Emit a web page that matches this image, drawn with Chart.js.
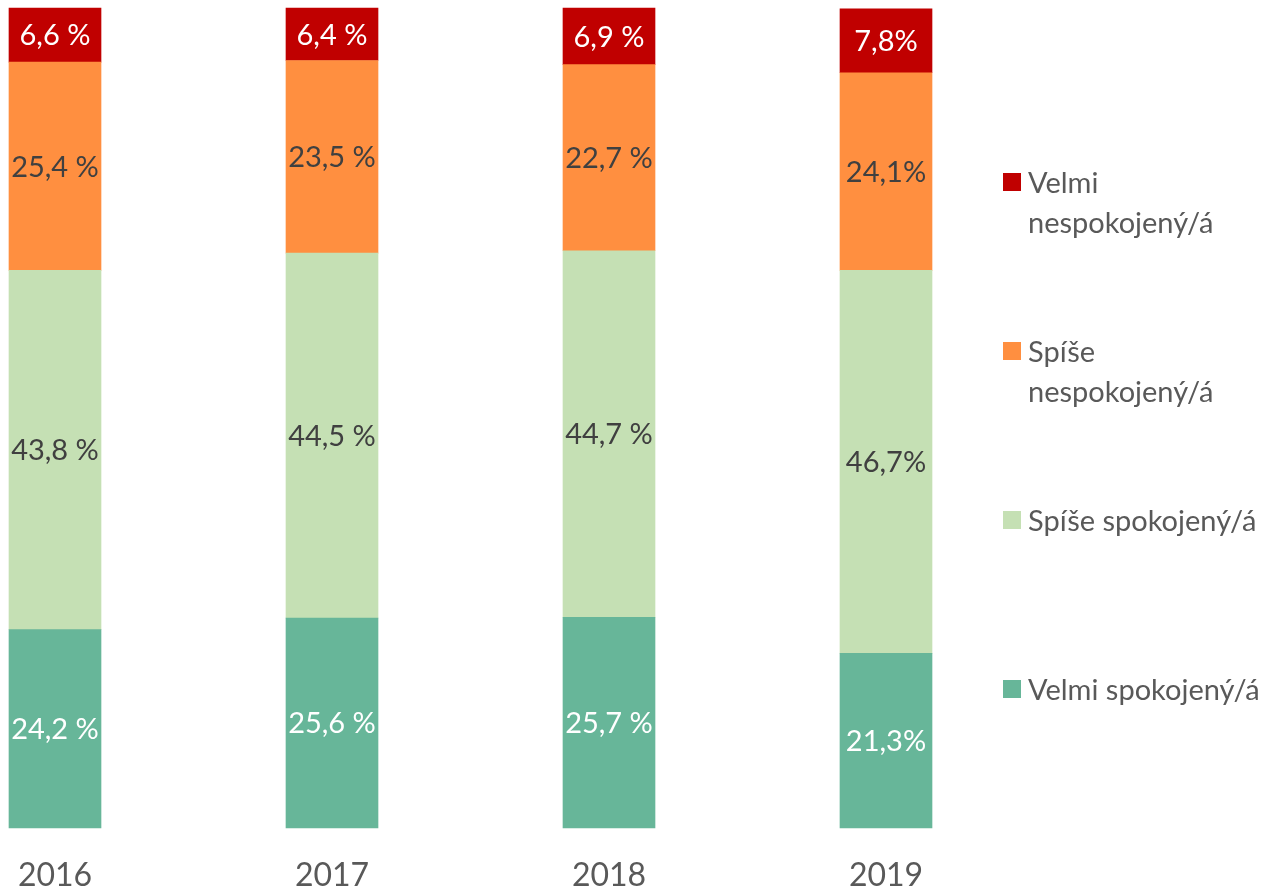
<!DOCTYPE html>
<html>
<head>
<meta charset="utf-8">
<script src="https://cdn.jsdelivr.net/npm/chart.js@4"></script>
<style>
  html, body { margin: 0; padding: 0; background: #fff; }
  #wrap { position: relative; width: 1273px; height: 892px; }
  #legend { position: absolute; left: 1003px; top: 0; width: 270px; font-family: Lato, sans-serif; font-size: 29px; color: #595959; }
  .item { position: absolute; left: 0; display: flex; align-items: flex-start; white-space: pre; line-height: 40px; }
  .box { width: 18px; height: 18px; margin-top: 11px; margin-right: 7px; flex: none; }
</style>
</head>
<body>
<div id="wrap">
  <canvas id="chart" width="1273" height="892"></canvas>
  <div id="legend"></div>
</div>
<script>
  const years = ['2016', '2017', '2018', '2019'];
  const seriesNames = ['Velmi spokojený/á', 'Spíše spokojený/á', 'Spíše nespokojený/á', 'Velmi nespokojený/á'];
  const legendText = ['Velmi spokojený/á', 'Spíše spokojený/á', 'Spíše\nnespokojený/á', 'Velmi\nnespokojený/á'];
  const veryHappy = [24.2, 25.6, 25.7, 21.3];
  const ratherHappy = [43.8, 44.5, 44.7, 46.7];
  const ratherUnhappy = [25.4, 23.5, 22.7, 24.1];
  const veryUnhappy = [6.6, 6.4, 6.9, 7.8];
  const pctSuffix = [' %', ' %', ' %', '%']; // 2019 labels have no space
  const colors = ['#67B699', '#C5E0B4', '#FF8F40', '#C00000'];
  const labelColors = ['#ffffff', '#404040', '#404040', '#ffffff'];

  const seriesValues = [veryHappy, ratherHappy, ratherUnhappy, veryUnhappy];

  const datasets = seriesValues.map((data, i) => ({
    label: seriesNames[i],
    data: data,
    backgroundColor: colors[i],
    borderWidth: 0,
    barThickness: 92,
    clip: false
  }));

  // value labels in the middle of each segment
  const segmentLabels = {
    id: 'segmentLabels',
    afterDatasetsDraw(chart) {
      const ctx = chart.ctx;
      ctx.save();
      ctx.font = '29px Lato';
      ctx.textAlign = 'center';
      ctx.textBaseline = 'middle';
      chart.data.datasets.forEach((ds, i) => {
        const meta = chart.getDatasetMeta(i);
        meta.data.forEach((bar, j) => {
          const txt = ds.data[j].toFixed(1).replace('.', ',') + pctSuffix[j];
          ctx.fillStyle = labelColors[i];
          ctx.fillText(txt, bar.x, (bar.y + bar.base) / 2 + 1);
        });
      });
      ctx.restore();
    }
  };

  const chart = new Chart(document.getElementById('chart'), {
    type: 'bar',
    data: { labels: years, datasets: datasets },
    options: {
      responsive: false,
      animation: false,
      layout: { padding: { left: 55, right: 387, top: 8, bottom: 0 } },
      plugins: { legend: { display: false }, tooltip: { enabled: false } },
      scales: {
        x: {
          stacked: true,
          offset: false,
          grid: { display: false, drawTicks: false },
          border: { display: false },
          ticks: { color: '#595959', padding: 32, font: { family: 'Lato', size: 32, lineHeight: 1 } },
          afterFit(scale) {
            // no extra room for edge labels, fixed axis height
            scale.paddingLeft = 0;
            scale.paddingRight = 0;
            scale.height = 64;
          }
        },
        y: { stacked: true, display: false, min: 0, max: 100 }
      }
    },
    plugins: [segmentLabels]
  });

  // legend on the right, top item = top segment
  const legendTops = [680, 511, 342, 173];
  const legend = document.getElementById('legend');
  seriesNames.forEach((name, i) => {
    const item = document.createElement('div');
    item.className = 'item';
    item.style.top = (legendTops[i] - 11) + 'px';
    const box = document.createElement('div');
    box.className = 'box';
    box.style.background = colors[i];
    const txt = document.createElement('div');
    txt.textContent = legendText[i];
    item.appendChild(box);
    item.appendChild(txt);
    legend.appendChild(item);
  });
</script>
</body>
</html>
